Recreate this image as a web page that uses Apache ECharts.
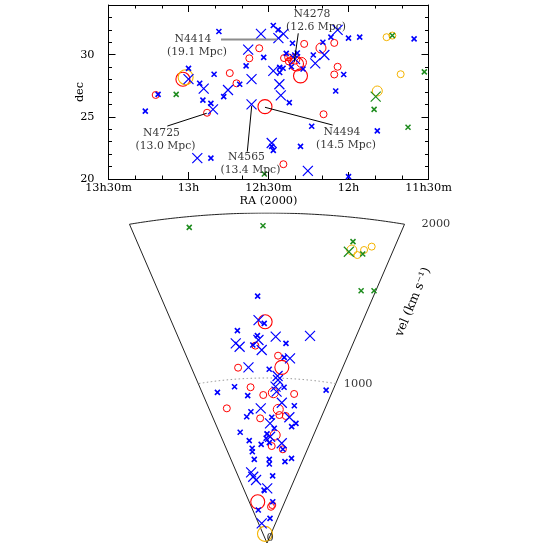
<!DOCTYPE html>
<html><head><meta charset="utf-8">
<script src="https://cdn.jsdelivr.net/npm/echarts@6/dist/echarts.min.js"></script>
<style>html,body{margin:0;padding:0;background:#fff}#c{width:545px;height:545px}</style>
</head><body><div id="c"></div>
<script>
// ---------- TOP PANEL: [RA (hours), dec (deg)] ----------
const topBlueSmall = [[13.27,25.46],[13.19,26.81],[13.0,28.9],[12.93,27.7],[12.91,26.35],[12.86,26.08],[12.84,28.43],[12.81,31.87],[12.78,26.63],[12.86,21.68],[12.68,27.62],[12.64,29.1],[12.53,29.79],[12.44,32.0],[12.43,28.98],[12.43,28.57],[12.37,26.14],[12.35,30.92],[12.32,30.14],[12.48,22.62],[12.47,22.3],[12.30,22.62],[12.47,32.35],[12.22,29.98],[12.16,31.0],[12.11,31.41],[12.0,31.33],[11.93,31.41],[12.03,28.41],[12.08,27.08],[12.23,24.24],[11.82,23.87],[11.59,31.27],[12.0,20.19],[12.389,30.11],[12.336,29.98],[12.357,29.03],[12.409,28.91],[12.284,28.85]];
const topBlueBig = [[13.0,28.03],[12.905,27.27],[12.847,25.6],[12.753,27.16],[12.945,21.68],[12.606,28.03],[12.606,26.0],[12.627,30.41],[12.547,31.68],[12.47,28.7],[12.432,27.62],[12.423,26.73],[12.438,31.33],[12.407,31.68],[12.48,22.9],[12.334,29.65],[12.151,29.98],[12.208,29.3],[12.254,20.65],[12.068,32.0]];
const topRedSmall = [[13.205,26.76],[12.884,25.33],[12.742,28.52],[12.62,29.71],[12.558,30.52],[12.407,21.19],[12.70,27.7],[12.277,30.87],[12.089,30.95],[12.068,29.03],[12.089,28.41],[12.156,25.21],[12.403,29.73],[12.377,29.79],[12.357,29.57],[12.373,29.46]];
const topRedMedium = [[12.335,29.65],[12.294,29.38],[12.172,30.54]];
const topRedLarge = [[13.035,28.03],[12.522,25.82],[12.30,28.3],[12.325,29.25]];
const topYellowLarge = [[13.018,28.19]];
const topYellowMedium = [[11.82,27.08]];
const topYellowSmall = [[11.762,31.41],[11.726,31.54],[11.674,28.43]];
const topGreenSmall = [[11.726,31.54],[11.84,25.6],[11.628,24.16],[11.526,28.62],[13.077,26.81],[12.526,20.4]];
const topGreenBig = [[11.83,26.63]];

// ---------- WEDGE: [RA (hours), velocity (km/s)] ----------
const wedgeBlueSmall = [[12.59,1497],[12.53,1331],[12.83,1292],[12.61,1257],[12.67,1201],[12.275,1212],[12.28,1127],[12.47,1053],[12.99,955],[13.27,932],[12.81,896],[12.24,946],[11.60,953],[12.79,798],[12.03,838],[12.88,769],[12.41,762],[11.93,733],[12.35,696],[12.0,711],[13.07,679],[12.5,661],[12.52,635],[12.91,624],[12.64,598],[12.445,608],[12.10,571],[12.87,577],[12.88,556],[12.86,509],[12.435,507],[12.43,479],[11.98,498],[11.82,521],[12.30,407],[12.63,321],[12.17,251],[13.12,203],[12.21,150]];
const wedgeBlueBig = [[12.59,1351],[12.87,1216],[12.83,1194],[12.60,1231],[12.565,1170],[12.40,1251],[12.01,1266],[12.205,1122],[12.75,1067],[12.35,1013],[12.34,989],[12.37,948],[12.35,918],[12.61,816],[12.25,852],[12.08,767],[12.44,725],[12.43,644],[12.15,607],[13.03,432],[12.99,405],[12.91,384],[12.49,331],[13.13,121]];
const wedgeRedSmall = [[12.64,1197],[12.36,1136],[12.89,1068],[12.75,946],[12.56,897],[12.07,909],[13.20,830],[12.63,756],[12.27,777],[12.15,773],[12.385,588],[12.10,571],[12.24,220],[12.17,231]];
const wedgeRedMedium = [[12.40,911],[12.30,811],[12.32,655]];
const wedgeRedLarge = [[12.52,1341],[12.30,1066],[13.03,252]];
const wedgeYellowLarge = [[13.02,56]];
const wedgeYellowMedium = [[11.82,1804]];
const wedgeYellowSmall = [[11.765,1778],[11.725,1813],[11.675,1839]];
const wedgeGreenSmall = [[13.08,1935],[12.53,1923],[11.83,1855],[11.725,1788],[11.63,1569],[11.516,1581]];
const wedgeGreenBig = [[11.84,1792]];

// ---------- annotations ----------
const annoNames = ['N4414','N4278','N4725','N4565','N4494'];
const annoDist = ['19.1','12.6','13.0','13.4','14.5'];
const annoText = [[12.947,30.76],[12.203,32.75],[13.144,23.19],[12.613,21.25],[12.016,23.25]];
const annoFrom = [[12.797,31.22],[12.314,31.72],[13.1325,24.26],[12.6325,22.2],[12.099,24.34]];
const annoTo = [[12.447,31.22],[12.339,29.44],[12.886,25.29],[12.605,25.87],[12.522,25.77]];

const raTicks = [11.5, 13.5];      // RA range (hours)
const velTicks = [0, 1000, 2000];  // wedge velocity labels

// ---------- build ----------
const FONT = 'DejaVu Serif';
const FS = 11.3;
const BLUE = '#0000ff', RED = '#ff0000', YEL = '#f5b400', GRN = '#1e8c1e';
const XPATH = 'path://M0,0L10,10M0,10L10,0';
const DEG = Math.PI / 180;
const RA0 = (raTicks[0] + raTicks[1]) / 2;
function wedge(ra, v) { const t = (ra - RA0) * 15 * DEG; return [-v * Math.sin(t), v * Math.cos(t)]; }
function raLabel(v) { const h = Math.floor(v + 1e-9); const m = Math.round((v - h) * 60); return m ? h + 'h' + m + 'm' : h + 'h'; }

function mk(data, shape, color, size, lw, panel, z) {
  const isX = shape === 'x';
  return {
    type: 'scatter',
    xAxisIndex: panel === 'top' ? 0 : 2,
    yAxisIndex: panel === 'top' ? 0 : 4,
    data: panel === 'top' ? data : data.map(d => wedge(d[0], d[1])),
    symbol: isX ? XPATH : 'circle',
    symbolSize: size,
    itemStyle: { color: 'none', borderColor: color, borderWidth: lw, opacity: 1 },
    z: z || 3,
    silent: true
  };
}

const series = [];
[['top', topBlueSmall, topBlueBig, topRedSmall, topRedMedium, topRedLarge, topYellowLarge, topYellowMedium, topYellowSmall, topGreenSmall, topGreenBig],
 ['wedge', wedgeBlueSmall, wedgeBlueBig, wedgeRedSmall, wedgeRedMedium, wedgeRedLarge, wedgeYellowLarge, wedgeYellowMedium, wedgeYellowSmall, wedgeGreenSmall, wedgeGreenBig]
].forEach(g => {
  const p = g[0];
  series.push(mk(g[3], 'o', RED, 7, 1, p));
  series.push(mk(g[4], 'o', RED, 10, 1, p));
  series.push(mk(g[5], 'o', RED, 14, 1.1, p));
  series.push(mk(g[6], 'o', YEL, 15, 1.1, p));
  series.push(mk(g[7], 'o', YEL, 10, 1, p));
  series.push(mk(g[8], 'o', YEL, 7, 1, p));
  series.push(mk(g[1], 'x', BLUE, 5, 1.6, p, 4));
  series.push(mk(g[2], 'x', BLUE, 10, 1.2, p, 4));
  series.push(mk(g[9], 'x', GRN, 5, 1.5, p, 4));
  series.push(mk(g[10], 'x', GRN, 10, 1.2, p, 4));
});

// leader lines
annoNames.forEach((n, i) => {
  series.push({
    type: 'line', xAxisIndex: 0, yAxisIndex: 0, symbol: 'none', silent: true, z: 5,
    data: [annoFrom[i], annoTo[i]],
    lineStyle: i === 0 ? { color: '#8c8c8c', width: 2 } : { color: '#000', width: 1 }
  });
});
// annotation text
series.push({
  type: 'scatter', xAxisIndex: 0, yAxisIndex: 0, symbolSize: 0, silent: true, z: 6,
  data: annoNames.map((n, i) => ({ value: annoText[i], n: n, d: annoDist[i] })),
  label: {
    show: true, position: 'inside', align: 'center', verticalAlign: 'middle',
    formatter: p => '{a|' + p.data.n + '}\n{b|(' + p.data.d + ' Mpc)}',
    fontFamily: FONT, fontSize: 10.8, lineHeight: 13, color: '#000',
    rich: {
      a: { fontFamily: FONT, fontSize: 10.8, lineHeight: 13, color: '#000', padding: [0, 8, 0, 0] },
      b: { fontFamily: FONT, fontSize: 10.8, lineHeight: 13, color: '#000' }
    }
  }
});

// wedge frame
const arc = (v) => { const a = []; for (let r = raTicks[0]; r <= raTicks[1] + 1e-9; r += 0.02) a.push(wedge(r, v)); return a; };
const vmax = velTicks[velTicks.length - 1];
series.push({ type: 'line', xAxisIndex: 2, yAxisIndex: 4, symbol: 'none', silent: true, z: 2,
  data: [wedge(raTicks[1], vmax), wedge(raTicks[1], 0), wedge(raTicks[0], vmax)], lineStyle: { color: '#222', width: 1 } });
series.push({ type: 'line', xAxisIndex: 2, yAxisIndex: 4, symbol: 'none', silent: true, z: 2,
  data: arc(vmax), lineStyle: { color: '#222', width: 1 } });
series.push({ type: 'line', xAxisIndex: 2, yAxisIndex: 4, symbol: 'none', silent: true, z: 2,
  data: arc(velTicks[1]), lineStyle: { color: '#999', width: 1, type: [1.5, 2.5] } });
// wedge velocity labels
const velLabelDist = [0, 8, 17];
series.push({
  type: 'scatter', xAxisIndex: 2, yAxisIndex: 4, symbolSize: 0, silent: true, z: 6,
  data: velTicks.map((v, i) => ({
    value: wedge(raTicks[0], v),
    label: i === 0 ? { position: 'inside', offset: [3, -5] } : { position: 'right', distance: velLabelDist[i] },
    t: String(v)
  })),
  label: { show: true, formatter: p => p.data.t, fontFamily: FONT, fontSize: FS, color: '#000' }
});

const axisCommon = {
  type: 'value', min: 11.5, max: 13.5, interval: 0.5, inverse: true,
  axisLine: { show: true, onZero: false, lineStyle: { color: '#000', width: 1 } },
  axisTick: { show: true, inside: true, length: 7, lineStyle: { color: '#000' } },
  minorTick: { show: true, splitNumber: 3, length: 3.5, lineStyle: { color: '#000' } },
  splitLine: { show: false }, minorSplitLine: { show: false }
};
const yMajor = (pos, labels) => ({
  type: 'value', position: pos, min: 20, max: 34, interval: 5, gridIndex: 0,
  axisLine: { show: true, onZero: false, lineStyle: { color: '#000', width: 1 } },
  axisTick: { show: true, inside: true, length: 7, lineStyle: { color: '#000' } },
  axisLabel: labels ? { show: true, margin: 14, fontFamily: FONT, fontSize: FS, color: '#000', showMaxLabel: false, formatter: v => (v % 5 === 0 ? String(v) : '') } : { show: false },
  splitLine: { show: false },
  name: labels ? 'dec' : '', nameLocation: 'middle', nameGap: 23, nameRotate: 90, nameMoveOverlap: false,
  nameTextStyle: { fontFamily: FONT, fontSize: FS, color: '#000' }
});
const yMinor = (pos) => ({
  type: 'value', position: pos, min: 20, max: 34, interval: 1, gridIndex: 0,
  axisLine: { show: false }, axisLabel: { show: false },
  axisTick: { show: true, inside: true, length: 3.5, lineStyle: { color: '#000' } },
  splitLine: { show: false }
});

const option = {
  animation: false,
  backgroundColor: '#fff',
  grid: [
    { left: 108.5, top: 5, width: 320, height: 174 },
    { left: 126.2, top: 213, width: 281.6, height: 330 }
  ],
  xAxis: [
    Object.assign({}, axisCommon, { gridIndex: 0, position: 'bottom',
      axisLabel: { show: true, margin: 4, fontFamily: FONT, fontSize: FS, color: '#000', formatter: raLabel, showMinLabel: true, showMaxLabel: true },
      name: 'RA (2000)', nameLocation: 'middle', nameGap: 17, nameMoveOverlap: false,
      nameTextStyle: { fontFamily: FONT, fontSize: FS, color: '#000' } }),
    Object.assign({}, axisCommon, { gridIndex: 0, position: 'top', axisLabel: { show: false } }),
    { type: 'value', gridIndex: 1, min: -530, max: 530, show: false }
  ],
  yAxis: [
    yMajor('left', true), yMinor('left'), yMajor('right', false), yMinor('right'),
    { type: 'value', gridIndex: 1, min: 0, max: 2000, show: false }
  ],
  graphic: [{
    type: 'text', x: 413, y: 302, rotation: 67.5 * DEG, silent: true,
    style: { text: 'vel (km s\u207B\u00B9)', font: '12.5px "DejaVu Serif"', fill: '#000', align: 'center', verticalAlign: 'middle' }
  }],
  series: series
};
const chart = echarts.init(document.getElementById('c'));
chart.setOption(option);
</script></body></html>
